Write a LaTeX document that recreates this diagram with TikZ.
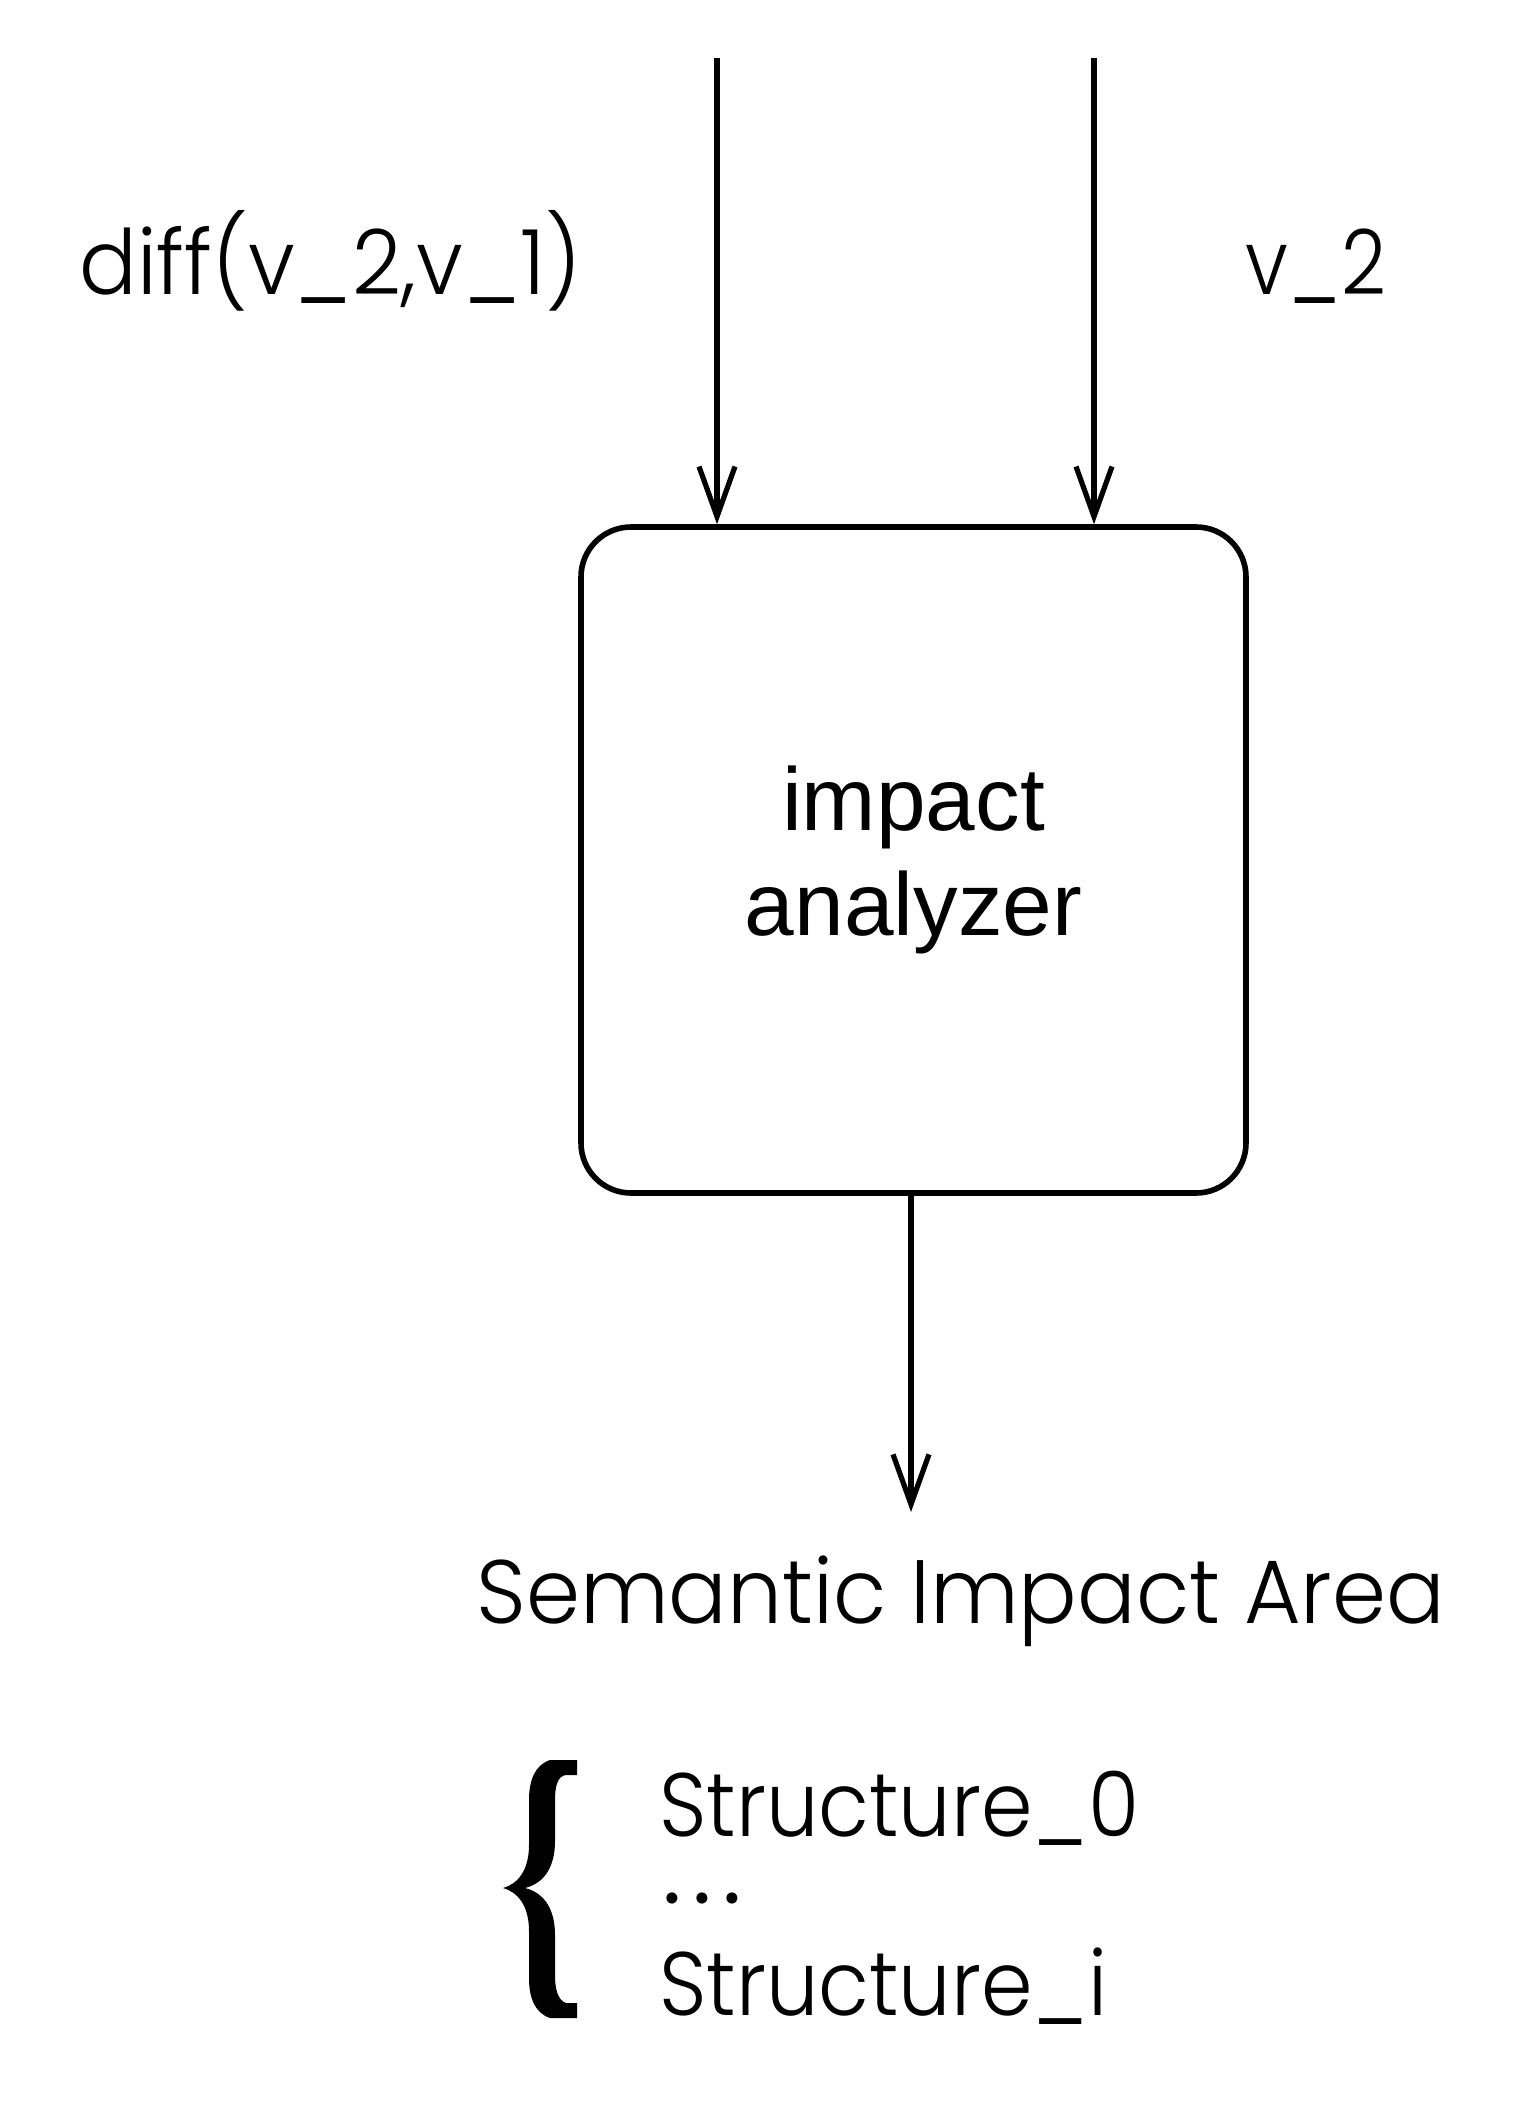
\documentclass[tikz,border=0pt]{standalone}
\usepackage{fontspec}
\IfFontExistsTF{Poppins Light}{\setmainfont{Poppins Light}}{\setmainfont{Poppins}}
\newfontfamily\boxfont{Liberation Sans}
\usetikzlibrary{arrows.meta}
\tikzset{
  arr/.style={line width=2.6pt,-{Straight Barb[length=25pt,width=18pt]}},
  procbox/.style={draw,line width=2.8pt,rounded corners=25pt,minimum width=332.5pt,minimum height=333pt,
    align=center,font=\boxfont\fontsize{44.6}{52.5}\selectfont,inner sep=0pt},
  lbl/.style={anchor=base west,inner sep=0pt,font=\fontsize{45}{54}\selectfont\addfontfeature{FakeStretch=#1}},
  lbl/.default=1,
  dotlbl/.style={anchor=base,inner sep=0pt,font=\fontsize{54}{54}\selectfont},
}
\begin{document}
\begin{tikzpicture}[x=0.5pt,y=-0.5pt]
\useasboundingbox (0,0) rectangle (1538,2105);
\node[procbox] (box) at (913.5,860) {impact\\analyzer};
\coordinate (t1) at (717,58);
\coordinate (t2) at (1094,58);
\coordinate (out) at (911,1512);
\draw[arr] (t1) -- (t1 |- box.north);
\draw[arr] (t2) -- (t2 |- box.north);
\draw[arr] (out |- box.south) -- (out);
\node[lbl=0.95] (diff) at (79,294) {diff(v\_2,v\_1)};
\node[lbl=0.87] (v2) at (1245,294) {v\_2};
\node[lbl=0.965] (sia) at (476,1623) {Semantic Impact Area};
\node[lbl=0.92] (s0) at (659,1836) {Structure\_0};
\node[dotlbl] (d1) at (672,1903) {.};
\node[dotlbl] (d2) at (702,1903) {.};
\node[dotlbl] (d3) at (732,1903) {.};
\node[lbl=0.92] (si) at (659,2015) {Structure\_i};
\fill (577,1760) -- (550,1760) .. controls (535,1765) and (529,1780) .. (529,1800) -- (529,1845)
  .. controls (529,1870) and (518,1884) .. (503,1888)
  .. controls (518,1892) and (529,1906) .. (529,1931) -- (529,1978)
  .. controls (529,1998) and (535,2013) .. (550,2018) -- (577,2018) -- (577,2003) -- (566,2003)
  .. controls (558,2000) and (555,1990) .. (555,1975) -- (555,1935)
  .. controls (555,1910) and (545,1893) .. (525,1888)
  .. controls (545,1883) and (555,1866) .. (555,1841) -- (555,1800)
  .. controls (555,1785) and (558,1776) .. (566,1775) -- (577,1775) -- cycle;
\end{tikzpicture}
\end{document}
